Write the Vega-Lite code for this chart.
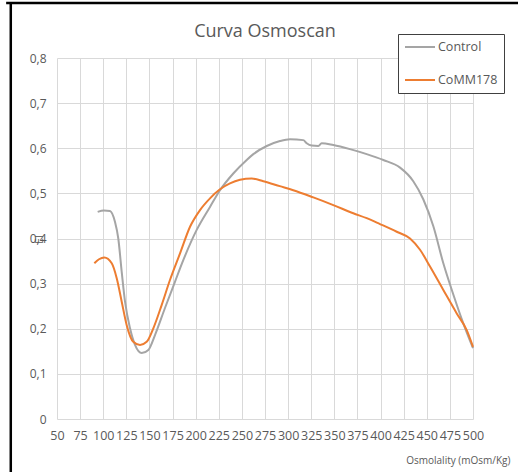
{
  "$schema": "https://vega.github.io/schema/vega-lite/v6.json",
  "width": 416,
  "height": 361,
  "autosize": {"type": "none"},
  "padding": {"left": 57, "top": 58, "right": 45, "bottom": 53},
  "background": "white",
  "title": {
    "text": "Curva Osmoscan",
    "font": "Open Sans",
    "fontSize": 18,
    "fontWeight": "normal",
    "color": "#595959",
    "anchor": "middle",
    "frame": "group",
    "baseline": "alphabetic",
    "offset": 0,
    "dy": 53
  },
  "config": {
    "view": {"stroke": null},
    "font": "Open Sans"
  },
  "resolve": {"scale": {"x": "independent", "y": "independent"}},
  "datasets": {
    "curves": [
      {"osm": 94.0, "ei": 0.459, "serie": "Control"},
      {"osm": 100.8, "ei": 0.462, "serie": "Control"},
      {"osm": 107.3, "ei": 0.461, "serie": "Control"},
      {"osm": 112.7, "ei": 0.437, "serie": "Control"},
      {"osm": 116.3, "ei": 0.4, "serie": "Control"},
      {"osm": 120.0, "ei": 0.326, "serie": "Control"},
      {"osm": 123.6, "ei": 0.26, "serie": "Control"},
      {"osm": 129.0, "ei": 0.201, "serie": "Control"},
      {"osm": 134.4, "ei": 0.164, "serie": "Control"},
      {"osm": 141.6, "ei": 0.146, "serie": "Control"},
      {"osm": 148.8, "ei": 0.153, "serie": "Control"},
      {"osm": 156.0, "ei": 0.186, "serie": "Control"},
      {"osm": 166.8, "ei": 0.246, "serie": "Control"},
      {"osm": 177.6, "ei": 0.304, "serie": "Control"},
      {"osm": 186.6, "ei": 0.352, "serie": "Control"},
      {"osm": 201.1, "ei": 0.419, "serie": "Control"},
      {"osm": 215.5, "ei": 0.47, "serie": "Control"},
      {"osm": 226.3, "ei": 0.507, "serie": "Control"},
      {"osm": 240.7, "ei": 0.544, "serie": "Control"},
      {"osm": 255.2, "ei": 0.574, "serie": "Control"},
      {"osm": 262.4, "ei": 0.587, "serie": "Control"},
      {"osm": 276.9, "ei": 0.605, "serie": "Control"},
      {"osm": 291.2, "ei": 0.616, "serie": "Control"},
      {"osm": 302.1, "ei": 0.62, "serie": "Control"},
      {"osm": 316.4, "ei": 0.618, "serie": "Control"},
      {"osm": 320.1, "ei": 0.611, "serie": "Control"},
      {"osm": 325.5, "ei": 0.606, "serie": "Control"},
      {"osm": 332.7, "ei": 0.605, "serie": "Control"},
      {"osm": 336.3, "ei": 0.611, "serie": "Control"},
      {"osm": 348.9, "ei": 0.607, "serie": "Control"},
      {"osm": 366.9, "ei": 0.598, "serie": "Control"},
      {"osm": 385.0, "ei": 0.587, "serie": "Control"},
      {"osm": 403.0, "ei": 0.574, "serie": "Control"},
      {"osm": 421.1, "ei": 0.557, "serie": "Control"},
      {"osm": 435.4, "ei": 0.527, "serie": "Control"},
      {"osm": 446.2, "ei": 0.487, "serie": "Control"},
      {"osm": 457.1, "ei": 0.427, "serie": "Control"},
      {"osm": 467.9, "ei": 0.345, "serie": "Control"},
      {"osm": 478.7, "ei": 0.276, "serie": "Control"},
      {"osm": 489.5, "ei": 0.212, "serie": "Control"},
      {"osm": 500.0, "ei": 0.157, "serie": "Control"},
      {"osm": 90.4, "ei": 0.345, "serie": "CoMM178"},
      {"osm": 95.4, "ei": 0.354, "serie": "CoMM178"},
      {"osm": 101.2, "ei": 0.358, "serie": "CoMM178"},
      {"osm": 109.2, "ei": 0.345, "serie": "CoMM178"},
      {"osm": 114.6, "ei": 0.312, "serie": "CoMM178"},
      {"osm": 120.0, "ei": 0.26, "serie": "CoMM178"},
      {"osm": 125.4, "ei": 0.208, "serie": "CoMM178"},
      {"osm": 132.5, "ei": 0.171, "serie": "CoMM178"},
      {"osm": 139.8, "ei": 0.164, "serie": "CoMM178"},
      {"osm": 147.0, "ei": 0.171, "serie": "CoMM178"},
      {"osm": 154.2, "ei": 0.201, "serie": "CoMM178"},
      {"osm": 163.3, "ei": 0.253, "serie": "CoMM178"},
      {"osm": 172.2, "ei": 0.308, "serie": "CoMM178"},
      {"osm": 183.1, "ei": 0.367, "serie": "CoMM178"},
      {"osm": 193.9, "ei": 0.426, "serie": "CoMM178"},
      {"osm": 204.7, "ei": 0.463, "serie": "CoMM178"},
      {"osm": 215.5, "ei": 0.489, "serie": "CoMM178"},
      {"osm": 226.3, "ei": 0.509, "serie": "CoMM178"},
      {"osm": 237.1, "ei": 0.522, "serie": "CoMM178"},
      {"osm": 248.0, "ei": 0.53, "serie": "CoMM178"},
      {"osm": 260.6, "ei": 0.533, "serie": "CoMM178"},
      {"osm": 273.2, "ei": 0.527, "serie": "CoMM178"},
      {"osm": 291.0, "ei": 0.516, "serie": "CoMM178"},
      {"osm": 305.6, "ei": 0.507, "serie": "CoMM178"},
      {"osm": 327.3, "ei": 0.491, "serie": "CoMM178"},
      {"osm": 348.9, "ei": 0.474, "serie": "CoMM178"},
      {"osm": 370.5, "ei": 0.456, "serie": "CoMM178"},
      {"osm": 385.0, "ei": 0.445, "serie": "CoMM178"},
      {"osm": 399.4, "ei": 0.432, "serie": "CoMM178"},
      {"osm": 417.5, "ei": 0.415, "serie": "CoMM178"},
      {"osm": 431.9, "ei": 0.4, "serie": "CoMM178"},
      {"osm": 442.7, "ei": 0.375, "serie": "CoMM178"},
      {"osm": 453.5, "ei": 0.338, "serie": "CoMM178"},
      {"osm": 467.9, "ei": 0.286, "serie": "CoMM178"},
      {"osm": 482.4, "ei": 0.234, "serie": "CoMM178"},
      {"osm": 493.2, "ei": 0.197, "serie": "CoMM178"},
      {"osm": 500.0, "ei": 0.16, "serie": "CoMM178"}
    ]
  },
  "data": {"name": "curves"},
  "layer": [
    {
      "mark": {"type": "line", "strokeWidth": 2, "interpolate": "monotone"},
      "encoding": {
        "x": {
          "field": "osm",
          "type": "quantitative",
          "scale": {"domain": [50, 500], "nice": false, "zero": false},
          "axis": {
            "values": [50, 75, 100, 125, 150, 175, 200, 225, 250, 275, 300, 325, 350, 375, 400, 425, 450, 475, 500],
            "title": "Osmolality (mOsm/Kg)",
            "titleFont": "Open Sans",
            "titleFontSize": 10,
            "titleFontWeight": "normal",
            "titleColor": "#595959",
            "titleAnchor": "end",
            "titleAlign": "right",
            "titleBaseline": "middle",
            "titleX": 453,
            "titleY": 41,
            "labelFont": "Open Sans",
            "labelFontSize": 12.5,
            "labelColor": "#595959",
            "labelPadding": 10,
            "labelOverlap": false,
            "labelFlush": false,
            "labelBound": false,
            "labelDx": -4,
            "ticks": false,
            "domain": false,
            "grid": true,
            "gridColor": "#D9D9D9",
            "gridWidth": 1
          }
        },
        "y": {
          "field": "ei",
          "type": "quantitative",
          "scale": {"domain": [0, 0.8], "nice": false},
          "axis": {
            "values": [0, 0.1, 0.2, 0.3, 0.4, 0.5, 0.6, 0.7, 0.8],
            "labelExpr": "replace(format(datum.value, '.1~f'), '.', ',')",
            "title": "EI",
            "titleFont": "Open Sans",
            "titleFontSize": 10,
            "titleFontWeight": "normal",
            "titleColor": "#595959",
            "titleAngle": -90,
            "titleAlign": "center",
            "titleBaseline": "middle",
            "titleX": -18,
            "titleY": 181,
            "labelFont": "Open Sans",
            "labelFontSize": 12,
            "labelColor": "#595959",
            "labelPadding": 11,
            "labelFlush": false,
            "labelBound": false,
            "ticks": false,
            "domain": false,
            "grid": true,
            "gridColor": "#D9D9D9",
            "gridWidth": 1
          }
        },
        "color": {
          "field": "serie",
          "type": "nominal",
          "scale": {"domain": ["Control", "CoMM178"], "range": ["#A5A5A5", "#ED7D31"]},
          "legend": {
            "title": null,
            "orient": "none",
            "legendX": 341,
            "legendY": -24,
            "padding": 6,
            "rowPadding": 19,
            "strokeColor": "#404040",
            "fillColor": "white",
            "symbolType": "M-1,0H4",
            "symbolSize": 144,
            "symbolStrokeWidth": 2,
            "labelFont": "Open Sans",
            "labelFontSize": 12.5,
            "labelColor": "#595959",
            "labelOffset": 20
          }
        }
      }
    },
    {
      "data": {"values": [{}]},
      "mark": {"type": "rule", "color": "black", "strokeWidth": 2.5, "clip": false},
      "encoding": {
        "x": {"datum": 0, "type": "quantitative", "scale": {"domain": [50, 500], "nice": false, "zero": false}, "axis": null},
        "y": {"datum": 0.922, "type": "quantitative", "scale": {"domain": [0, 0.8], "nice": false}, "axis": null},
        "y2": {"datum": -0.2}
      }
    },
    {
      "data": {"values": [{}]},
      "mark": {"type": "rule", "color": "black", "strokeWidth": 2.5, "clip": false},
      "encoding": {
        "x": {"datum": -5, "type": "quantitative", "scale": {"domain": [50, 500], "nice": false, "zero": false}, "axis": null},
        "x2": {"datum": 600},
        "y": {"datum": 0.922, "type": "quantitative", "scale": {"domain": [0, 0.8], "nice": false}, "axis": null}
      }
    }
  ]
}
